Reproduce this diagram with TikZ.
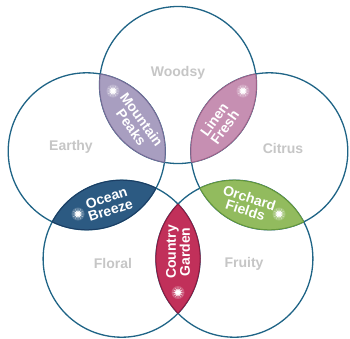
\documentclass[tikz,border=0pt]{standalone}
\usepackage{fontspec}
\setmainfont{Liberation Sans}
\usetikzlibrary{shapes.geometric}
\definecolor{ring}{HTML}{1F6486}
\definecolor{mpfill}{HTML}{A89EC0}
\definecolor{mpline}{HTML}{786C96}
\definecolor{lffill}{HTML}{C68FB2}
\definecolor{lfline}{HTML}{9E6389}
\definecolor{obfill}{HTML}{2C5A82}
\definecolor{obline}{HTML}{1C3D63}
\definecolor{offill}{HTML}{92BB5E}
\definecolor{ofline}{HTML}{66983B}
\definecolor{cgfill}{HTML}{C1305A}
\definecolor{cgline}{HTML}{8C1A3E}
\definecolor{graytext}{HTML}{C6C6C6}
\newcommand\myrad{78.5pt}
\newcommand\mylens[4]{%
  \begin{scope}\clip (#1) circle[radius=\myrad];
    \fill[#3] (#2) circle[radius=\myrad];
    \draw[#4, line width=1pt] (#2) circle[radius=\myrad];\end{scope}
  \begin{scope}\clip (#2) circle[radius=\myrad];
    \draw[#4, line width=1pt] (#1) circle[radius=\myrad];\end{scope}}
\tikzset{
  ringline/.style={draw=ring, line width=1.3pt},
  setlabel/.style={text=graytext, font=\bfseries\fontsize{14}{14}\selectfont, inner sep=0pt},
  lenstext/.style={text=white, align=center, font=\bfseries\fontsize{14}{13}\selectfont, inner sep=0pt},
  glowout/.style={circle, fill=white, fill opacity=0.2, minimum size=13pt, inner sep=0pt},
  glowin/.style={circle, fill=white, fill opacity=0.45, minimum size=7pt, inner sep=0pt},
  sparkle/.style={star, star points=12, star point ratio=3.2, fill=white, minimum size=11pt, inner sep=0pt}
}
\begin{document}
\begin{tikzpicture}[x=1pt,y=-1pt]
\fill[white] (0,0) rectangle (350,338);
\useasboundingbox (0,0) rectangle (350,338);
\coordinate (W) at (178,85);
\coordinate (E) at (86.7,151.3);
\coordinate (C) at (269.3,151.3);
\coordinate (F) at (121.6,258.7);
\coordinate (R) at (234.4,258.7);
\foreach \c in {W,E,C,F,R} \draw[ringline] (\c) circle[radius=\myrad];
\mylens{W}{E}{mpfill}{mpline}
\mylens{W}{C}{lffill}{lfline}
\mylens{E}{F}{obfill}{obline}
\mylens{C}{R}{offill}{ofline}
\mylens{F}{R}{cgfill}{cgline}
% set labels
\node[setlabel] (woodsy) at (178,73) {Woodsy};
\node[setlabel] (earthy) at (71,147) {Earthy};
\node[setlabel] (citrus) at (283,148) {Citrus};
\node[setlabel] (floral) at (113,263) {Floral};
\node[setlabel] (fruity) at (244,264) {Fruity};
% lens texts
\node[lenstext, rotate=-54] (mountain) at (136.5,123.5) {Mountain\\Peaks};
\node[lenstext, rotate=54] (linen) at (219.5,123.5) {Linen\\Fresh};
\node[lenstext, rotate=18] (ocean) at (108.5,204) {Ocean\\Breeze};
\node[lenstext, rotate=-18] (orchard) at (247.5,204) {Orchard\\Fields};
\node[lenstext, rotate=90] (country) at (178,252) {Country\\Garden};
% sparkles
\foreach \n/\p in {s1/{(113,91)}, s2/{(243,91)}, s3/{(78,214)}, s4/{(279,214)}, s5/{(178,292.5)}}{
  \node[glowout] (\n o) at \p {};
  \node[glowin] (\n i) at \p {};
  \node[sparkle] (\n) at \p {};
}
\end{tikzpicture}
\end{document}
